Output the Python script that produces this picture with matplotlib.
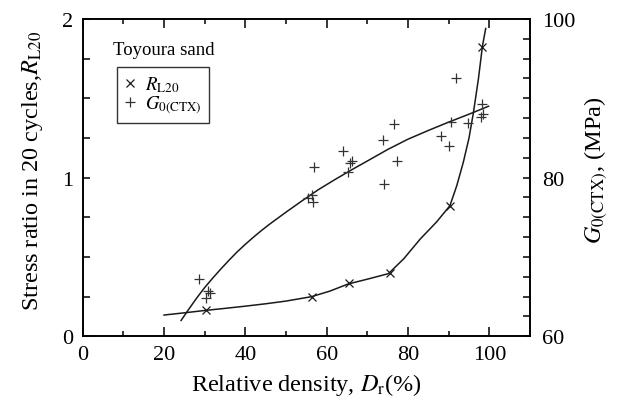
import matplotlib
matplotlib.use("Agg")
import matplotlib.pyplot as plt
from matplotlib.lines import Line2D
from matplotlib.ticker import MultipleLocator

plt.rcParams['font.family'] = ['Liberation Serif', 'DejaVu Serif']
plt.rcParams['mathtext.fontset'] = 'stix'

# R_L20 data (left axis)
r_dr = [30.2, 56.3, 65.4, 75.6, 90.4, 98.3]
r_val = [0.166, 0.250, 0.333, 0.398, 0.820, 1.825]

# R_L20 trend curve
r_curve_dr = [20, 25, 30.1, 35, 40, 45, 50, 56.3, 60.8, 65.3, 70, 75.2, 79, 83,
              87, 90.3, 92, 93.6, 95, 96.1, 97.3, 98.3, 99.1]
r_curve_val = [0.134, 0.148, 0.163, 0.176, 0.19, 0.205, 0.222, 0.250, 0.285, 0.33,
               0.36, 0.395, 0.49, 0.613, 0.72, 0.823, 0.95, 1.097, 1.25, 1.412,
               1.62, 1.828, 1.94]

# G0(CTX) data (right axis, MPa)
g_dr = [28.6, 30.2, 30.7, 31.2, 55.3, 56.3, 56.7, 57.0, 64.1, 65.2, 65.7, 66.3,
        73.8, 74.1, 76.6, 77.2, 88.1, 90.2, 90.5, 91.8, 94.8, 97.9, 98.1, 98.4]
g_val = [67.2, 64.8, 65.7, 65.5, 77.4, 77.85, 76.97, 81.4, 83.3, 80.75, 81.9, 82.1,
         84.8, 79.2, 86.8, 82.1, 85.3, 84.0, 87.05, 92.5, 86.85, 87.6, 89.3, 88.0]

# G0 trend curve
g_curve_dr = [24.2, 26, 28, 30, 32, 34, 36, 38, 40, 42, 44, 46, 50, 54, 58, 62,
              66, 70, 75, 80, 85, 90, 95, 99.8]
g_curve_val = [62.0, 63.35, 64.8, 66.15, 67.35, 68.5, 69.6, 70.65, 71.6, 72.5,
               73.35, 74.15, 75.65, 77.1, 78.5, 79.75, 80.95, 82.1, 83.55, 84.85,
               85.95, 87.0, 88.0, 89.0]

fig = plt.figure(figsize=(6.2, 4.14), dpi=100)
ax = fig.add_axes([82.7/620, 1-337.3/414, (530-82.7)/620, (337.3-20)/414])
ax2 = ax.twinx()

ink = '#1a1a1a'
ax.plot(r_curve_dr, r_curve_val, color=ink, lw=1.1)
ax.plot(r_dr, r_val, ls='none', marker='x', ms=6, mew=0.9, color=ink)
ax2.plot(g_curve_dr, g_curve_val, color=ink, lw=1.1)
ax2.plot(g_dr, g_val, ls='none', marker='+', ms=7, mew=0.9, color='#333333')

ax.set_xlim(0, 110)
ax.set_ylim(0, 2)
ax2.set_ylim(60, 100)

ax.xaxis.set_major_locator(MultipleLocator(20))
ax.xaxis.set_minor_locator(MultipleLocator(10))
ax.yaxis.set_major_locator(MultipleLocator(1))
ax.yaxis.set_minor_locator(MultipleLocator(0.25))
ax2.yaxis.set_major_locator(MultipleLocator(20))
ax2.yaxis.set_minor_locator(MultipleLocator(2.5))

ax.set_xticks([0, 20, 40, 60, 80, 100])
tfs = 16
lfs = 17.5
ax.tick_params(axis='x', which='major', direction='in', length=6.5, width=1.1, top=True, labelsize=tfs, pad=6)
ax.tick_params(axis='x', which='minor', direction='in', length=3.5, width=1.1, top=True)
ax.tick_params(axis='y', which='both', direction='in', length=5, width=1.1, labelsize=tfs, right=False, pad=7)
ax2.tick_params(axis='y', which='both', direction='in', length=5, width=1.1, labelsize=tfs, left=False, pad=8.5)

for a in (ax, ax2):
    for s in a.spines.values():
        s.set_linewidth(1.2)
        s.set_color('black')

ax.set_xlabel('Relative density, $D_{\\mathrm{r}}$(%)', fontsize=lfs, labelpad=5)
ax.set_ylabel('Stress ratio in 20 cycles,$R_{\\mathrm{L20}}$', fontsize=lfs, labelpad=12)
ax2.set_ylabel('$G_{0(\\mathrm{CTX})}$, (MPa)', fontsize=lfs, labelpad=5)
ax.yaxis.label.set_y(0.525)
ax2.yaxis.label.set_y(0.525)

ax.text(0.068, 0.905, 'Toyoura sand', transform=ax.transAxes, fontsize=13.5, va='center', ha='left')

handles = [Line2D([], [], ls='none', marker='x', ms=6, mew=0.9, color=ink),
           Line2D([], [], ls='none', marker='+', ms=7, mew=0.9, color='#333333')]
labels = ['$R_{\\mathrm{L20}}$', '$G_{0(\\mathrm{CTX})}$']
leg = ax.legend(handles, labels, loc='upper left', bbox_to_anchor=(0.076, 0.85),
                frameon=True, fancybox=False, edgecolor='black', fontsize=13.5,
                handlelength=0.6, handletextpad=0.5, borderpad=0.4, labelspacing=0.0,
                borderaxespad=0)
leg.get_frame().set_linewidth(1.0)

fig.savefig('out.png', dpi=100)
